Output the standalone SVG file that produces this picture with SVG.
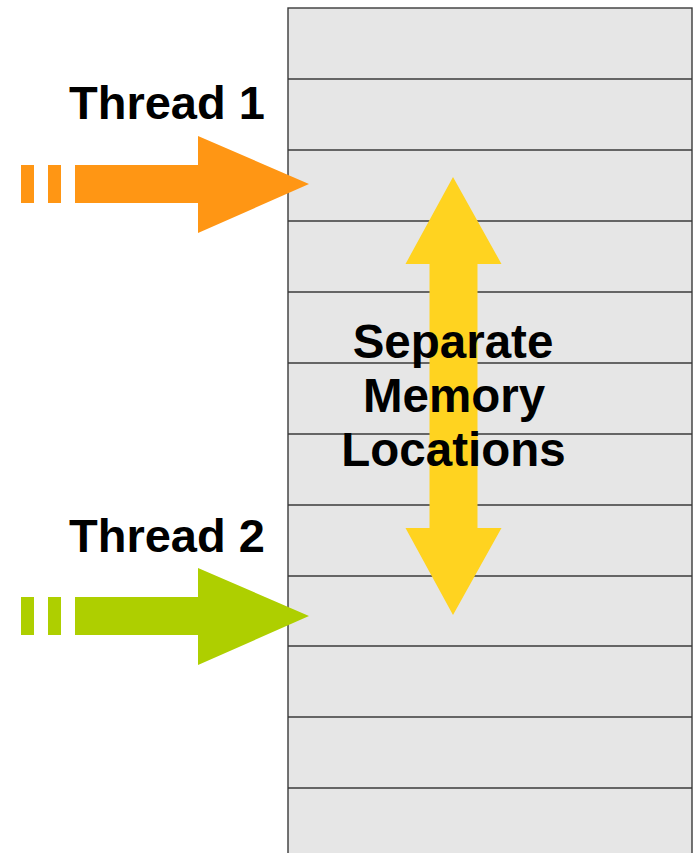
<svg xmlns="http://www.w3.org/2000/svg" width="698" height="853" viewBox="0 0 698 853">
  <style>
    .cell { fill: #e6e6e6; stroke: #3a3a3a; stroke-width: 1.4; }
    .label { font-family: "Liberation Sans", Arial, sans-serif; font-weight: bold; font-size: 47px; fill: #000; }
    .mid { font-size: 47.5px; text-anchor: middle; }
  </style>
  <rect width="698" height="853" fill="#ffffff"/>

  <!-- memory column -->
  <g id="memory">
    <rect class="cell" x="288" y="8" width="404" height="860"/>
    <g stroke="#3a3a3a" stroke-width="1.4">
      <line x1="288" y1="79" x2="692" y2="79"/>
      <line x1="288" y1="150" x2="692" y2="150"/>
      <line x1="288" y1="221" x2="692" y2="221"/>
      <line x1="288" y1="292" x2="692" y2="292"/>
      <line x1="288" y1="363" x2="692" y2="363"/>
      <line x1="288" y1="434" x2="692" y2="434"/>
      <line x1="288" y1="505" x2="692" y2="505"/>
      <line x1="288" y1="576" x2="692" y2="576"/>
      <line x1="288" y1="646" x2="692" y2="646"/>
      <line x1="288" y1="717" x2="692" y2="717"/>
      <line x1="288" y1="788" x2="692" y2="788"/>
    </g>
  </g>

  <g id="connectors">
    <!-- thread 1 arrow -->
    <g id="thread1-arrow" fill="#ff9614">
      <rect x="21" y="165" width="13" height="38"/>
      <rect x="48" y="165" width="13" height="38"/>
      <polygon points="75,165 198,165 198,136 309,184 198,233 198,203 75,203"/>
    </g>
    <!-- thread 2 arrow -->
    <g id="thread2-arrow" fill="#aecf00">
      <rect x="21" y="597" width="13" height="38"/>
      <rect x="48" y="597" width="13" height="38"/>
      <polygon points="75,597 198,597 198,568 309,616 198,665 198,635 75,635"/>
    </g>
    <!-- double-headed span arrow -->
    <polygon id="span-arrow" fill="#ffd320"
      points="453,177 501.5,264 477.5,264 477.5,528 501.5,528 453,615 405.5,528 429.5,528 429.5,264 405.5,264"/>
  </g>

  <g id="thread1-label">
    <text class="label" x="69" y="119">Thread 1</text>
  </g>
  <g id="thread2-label">
    <text class="label" x="69" y="552">Thread 2</text>
  </g>
  <g id="locations-label">
    <text class="label mid" x="453" y="358">Separate</text>
    <text class="label mid" x="454" y="412">Memory</text>
    <text class="label mid" x="453.5" y="466">Locations</text>
  </g>
</svg>
